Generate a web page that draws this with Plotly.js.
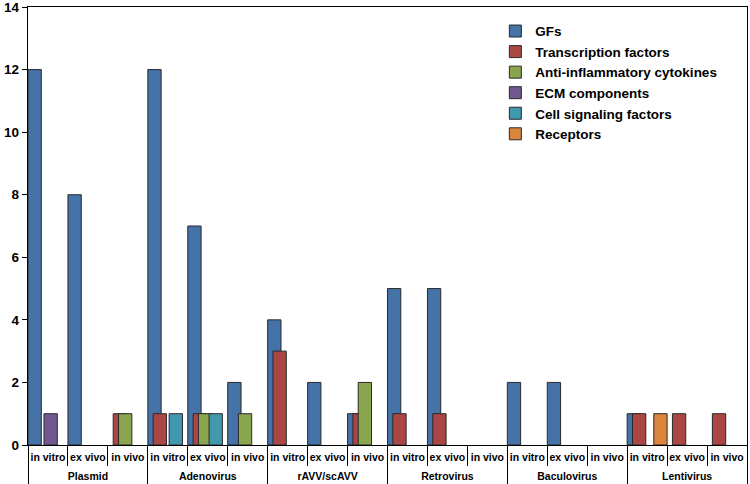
<!DOCTYPE html>
<html>
<head>
<meta charset="utf-8">
<script src="https://cdn.plot.ly/plotly-3.0.1.min.js"></script>
<style>html,body{margin:0;padding:0;background:#fff;}#chart{width:750px;height:484px;}</style>
</head>
<body>
<div id="chart"></div>
<script>
// Categories
const vectors = ['Plasmid', 'Adenovirus', 'rAVV/scAVV', 'Retrovirus', 'Baculovirus', 'Lentivirus'];
const settings = ['in vitro', 'ex vivo', 'in vivo'];

// Series (18 values each: vector x setting, in order)
const seriesNames = ['GFs', 'Transcription factors', 'Anti-inflammatory cytokines', 'ECM components', 'Cell signaling factors', 'Receptors'];
const gfs            = [12, 8, 0,  12, 7, 2,  4, 2, 1,  5, 5, 0,  2, 2, 0,  1, 0, 0];
const transcription  = [0, 0, 1,  1, 1, 0,   3, 0, 1,  1, 1, 0,  0, 0, 0,  1, 1, 1];
const antiInflam     = [0, 0, 1,  0, 1, 1,   0, 0, 2,  0, 0, 0,  0, 0, 0,  0, 0, 0];
const ecm            = [1, 0, 0,  0, 0, 0,   0, 0, 0,  0, 0, 0,  0, 0, 0,  0, 0, 0];
const cellSignaling  = [0, 0, 0,  1, 1, 0,   0, 0, 0,  0, 0, 0,  0, 0, 0,  0, 0, 0];
const receptors      = [0, 0, 0,  0, 0, 0,   0, 0, 0,  0, 0, 0,  0, 0, 0,  1, 0, 0];
const seriesValues = [gfs, transcription, antiInflam, ecm, cellSignaling, receptors];
const colors = ['#4572A7', '#AA4643', '#89A54E', '#71588F', '#4198AF', '#DB843D'];

// category positions (index along the axis) and their labels
const subLabels = [], subPos = [];
vectors.forEach((v, g) => settings.forEach((s, j) => { subLabels.push(s); subPos.push(g * settings.length + j); }));
const groupPos = vectors.map((v, g) => g * settings.length + (settings.length - 1) / 2);
const nCat = subLabels.length, nSet = settings.length;

const FONT = 'Liberation Sans, Arial, sans-serif';
const barW = 1 / 3, step = (1 - barW) / 5;
const traces = seriesNames.map((name, i) => ({
  type: 'bar',
  name: name,
  x: subPos,
  y: seriesValues[i].map(v => v === 0 ? null : v),
  width: barW,
  offset: -0.5 + i * step,
  marker: {color: colors[i], line: {color: '#2a2a2a', width: 1}},
  customdata: subLabels,
  hovertemplate: '%{customdata}: %{y}'
}));
// helper trace so the group-label axis is drawn
traces.push({type: 'scatter', x: groupPos, y: groupPos.map(() => null), xaxis: 'x2', yaxis: 'y',
  mode: 'markers', showlegend: false, hoverinfo: 'skip'});

const layout = {
  width: 750, height: 484,
  margin: {l: 28, r: 3, t: 7, b: 39},
  paper_bgcolor: '#fff', plot_bgcolor: '#fff',
  barmode: 'overlay',
  showlegend: true,
  font: {family: FONT, color: '#000'},
  legend: {
    x: 0.65, y: 0.98, xanchor: 'left', yanchor: 'top',
    bgcolor: 'rgba(0,0,0,0)',
    font: {family: FONT, size: 13.5, color: '#000', weight: 'bold'},
    traceorder: 'normal'
  },
  xaxis: {
    range: [-0.5, nCat - 0.5],
    tickmode: 'array', tickvals: subPos, ticktext: subLabels,
    ticks: '', tickangle: 0,
    ticklabelstandoff: 2,
    minor: {tick0: -0.5, dtick: 1, ticks: 'outside', ticklen: 20, tickcolor: '#000', tickwidth: 1, showgrid: false},
    showline: true, linecolor: '#000', linewidth: 1.3, mirror: true,
    tickfont: {family: FONT, size: 10.5, color: '#000', weight: 'bold'},
    showgrid: false, zeroline: false
  },
  xaxis2: {
    overlaying: 'x', anchor: 'y', side: 'bottom',
    range: [-0.5, nCat - 0.5],
    tickmode: 'array', tickvals: groupPos, ticktext: vectors,
    ticks: '', tickangle: 0,
    ticklabelstandoff: 23,
    minor: {tick0: -0.5, dtick: nSet, ticks: 'outside', ticklen: 39, tickcolor: '#000', tickwidth: 1, showgrid: false},
    showline: false,
    tickfont: {family: FONT, size: 10.5, color: '#000', weight: 'bold'},
    showgrid: false, zeroline: false
  },
  yaxis: {
    range: [0, 14], dtick: 2, tick0: 0,
    showline: true, linecolor: '#000', linewidth: 1.3, mirror: true,
    ticks: 'outside', ticklen: 5, tickcolor: '#000',
    ticklabeloverflow: 'allow',
    tickfont: {family: FONT, size: 13.5, color: '#000', weight: 'bold'},
    showgrid: false, zeroline: false
  }
};

Plotly.newPlot('chart', traces, layout, {displayModeBar: false, staticPlot: true});
</script>
</body>
</html>
